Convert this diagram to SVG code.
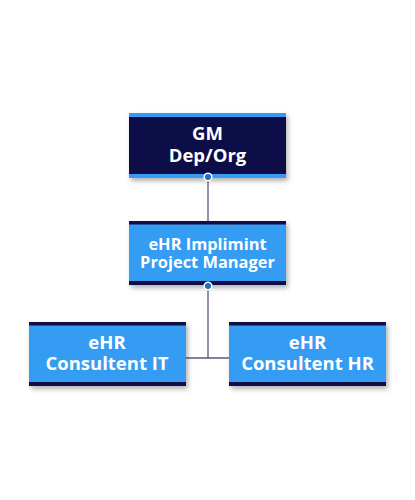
<svg xmlns="http://www.w3.org/2000/svg" width="415" height="500" viewBox="0 0 415 500">
<style>
.t{font-family:"Open Sans","Noto Sans","Liberation Sans",sans-serif;font-weight:bold;fill:#fff;text-anchor:middle}
.big{font-size:18.5px}
.mid{font-size:16.4px}
.dk{fill:#100d47}
.lt{fill:#349cf4}
.ln{stroke:#5b5a7e;stroke-width:1.3;fill:none}
.dot{fill:#1f6fc2;stroke:#fff;stroke-width:1.5}
</style>
<defs>
<filter id="sh" x="-10%" y="-20%" width="125%" height="150%">
<feDropShadow dx="2" dy="3" stdDeviation="2.5" flood-color="#000" flood-opacity="0.3"/>
</filter>
</defs>
<g id="connectors">
<path class="ln" d="M208 178V221M208 285V358M186 358H229"/>
</g>
<g id="gm">
<g filter="url(#sh)">
<rect class="dk" x="129" y="113" width="157" height="65"/>
</g>
<rect class="lt" x="129" y="113" width="157" height="4"/>
<rect class="lt" x="129" y="174" width="157" height="4"/>
<text class="t big"><tspan x="207.5" y="140">GM</tspan><tspan x="207.5" y="162">Dep/Org</tspan></text>
<circle class="dot" cx="208" cy="177" r="3.8"/>
</g>
<g id="pm">
<g filter="url(#sh)">
<rect class="lt" x="129" y="221" width="157" height="64"/>
</g>
<rect class="dk" x="129" y="221" width="157" height="3.5"/>
<rect class="dk" x="129" y="281" width="157" height="4"/>
<text class="t mid"><tspan x="207.5" y="249.5">eHR Implimint</tspan><tspan x="207.5" y="268">Project Manager</tspan></text>
<circle class="dot" cx="208" cy="286" r="3.8"/>
</g>
<g id="it">
<g filter="url(#sh)">
<rect class="lt" x="29" y="322" width="157" height="64"/>
</g>
<rect class="dk" x="29" y="322" width="157" height="3.5"/>
<rect class="dk" x="29" y="382" width="157" height="4"/>
<text class="t big"><tspan x="107" y="348.5">eHR</tspan><tspan x="107" y="369.5">Consultent IT</tspan></text>
</g>
<g id="hr">
<g filter="url(#sh)">
<rect class="lt" x="229" y="322" width="157" height="64"/>
</g>
<rect class="dk" x="229" y="322" width="157" height="3.5"/>
<rect class="dk" x="229" y="382" width="157" height="4"/>
<text class="t big"><tspan x="307.5" y="348.5">eHR</tspan><tspan x="307.5" y="369.5">Consultent HR</tspan></text>
</g>
</svg>
